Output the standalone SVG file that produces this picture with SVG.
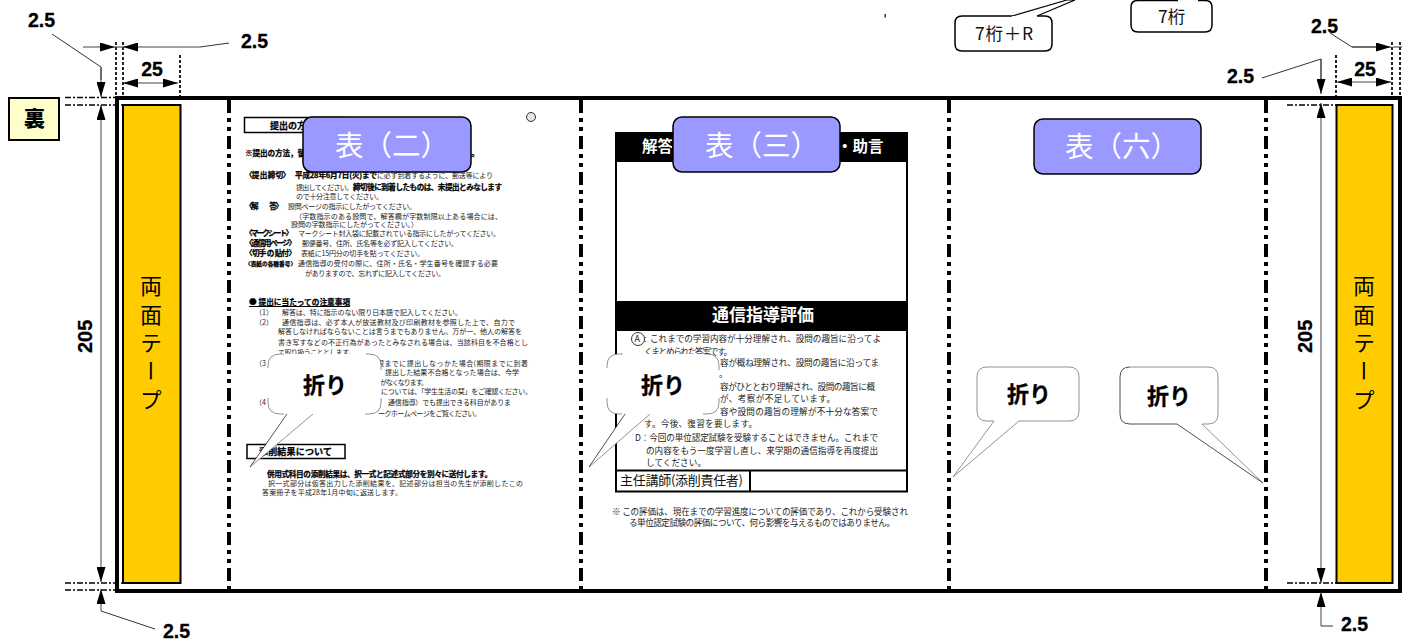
<svg xmlns="http://www.w3.org/2000/svg" width="1403" height="640" viewBox="0 0 1403 640">
<style>
text{font-family:"Noto Sans CJK JP","Noto Sans",sans-serif;fill:#000}
.dim{font-family:"Liberation Sans",Arial,sans-serif;font-weight:700;font-size:19.500px;stroke:#000;stroke-width:.3}
.s{font-size:7px;fill:#222}
.b{font-size:7.600px;font-weight:700;stroke:#000;stroke-width:.25}
.m{font-size:8.600px;fill:#222}
.blue{fill:#99f;stroke:#000;stroke-width:1.500}
.bt{fill:#fff;font-size:28.500px}
.fold{fill:none;stroke:#000;stroke-width:4;stroke-dasharray:13 5 4 5 4 5}
.tape{fill:#fc0;stroke:#000;stroke-width:2}
.tt{font-size:22px;writing-mode:vertical-rl;letter-spacing:6.300px}
.ld{fill:none;stroke:#333;stroke-width:1}
.dd{fill:none;stroke:#000;stroke-width:1.700;stroke-dasharray:6 2 2 2}
.dv{fill:none;stroke:#000;stroke-width:1.700;stroke-dasharray:3 2}
.aw{fill:none;stroke:#444;stroke-width:1;marker-end:url(#ah)}
.cw{fill:#fff;stroke:none}
.co{fill:none;stroke:#777;stroke-width:.8}
.ck{fill:none;stroke:#222;stroke-width:.8}
.ot{font-size:22px;font-weight:700;stroke:#000;stroke-width:.3}
.tag{fill:#fff;stroke:#000;stroke-width:1.500}
.tagt{font-size:17.500px;fill:#111}
.fr{fill:none;stroke:#000;stroke-width:1.500}
.wb{font-size:15.500px;font-weight:700;fill:#fff}
</style>
<defs>
<marker id="ah" markerUnits="userSpaceOnUse" markerWidth="15" markerHeight="9" viewBox="0 0 15 9" refX="15" refY="4.500" orient="auto"><path d="M0 0L15 4.500L0 9Z" fill="#000"/></marker>
</defs>
<rect width="1403" height="640" fill="#fff"/>

<g id="page-left">
<rect class="fr" x="244.500" y="117.500" width="100" height="15"/>
<text class="b" x="270" y="129" style="font-size:9px" textLength="36">提出の方</text>
<text class="b" x="245" y="156" textLength="60">※提出の方法，留</text>
<text class="b" x="462" y="156" style="font-size:9px" textLength="18">す。</text>
<text class="b" x="245" y="178" textLength="45">〈提 出 締 切〉</text>
<text class="b" x="295" y="178" textLength="82">平成28年6月7日(火)まで</text>
<text class="s" x="377" y="178" textLength="116">に必ず到着するように、郵送等により</text>
<text class="s" x="296" y="190" textLength="57">提出してください。</text>
<text class="b" x="353" y="190" textLength="149">締切後に到着したものは、未提出とみなします</text>
<text class="s" x="296" y="199" textLength="87">ので十分注意してください。</text>
<text class="b" x="245" y="209" textLength="38">〈解　　答〉</text>
<text class="s" x="288" y="209" textLength="128">設問ページの指示にしたがってください。</text>
<text class="s" x="295" y="219" textLength="207">（字数指示のある設問で、解答欄が字数制限以上ある場合には、</text>
<text class="s" x="291" y="227" textLength="127">設問の字数指示にしたがってください。）</text>
<text class="b" x="245" y="236" textLength="48">〈マークシート〉</text>
<text class="s" x="298" y="236" textLength="202">マークシート封入袋に記載されている指示にしたがってください。</text>
<text class="b" x="245" y="246" textLength="51">〈通信用ページ〉</text>
<text class="s" x="302" y="246" textLength="156">郵便番号、住所、氏名等を必ず記入してください。</text>
<text class="b" x="245" y="256" textLength="51">〈切手 の 貼付〉</text>
<text class="s" x="301" y="256" textLength="123">表紙に15円分の切手を貼ってください。</text>
<text class="b" x="245" y="266" style="font-size:5.600px" textLength="51">〈表紙の各種番号〉</text>
<text class="s" x="298" y="266" textLength="200">通信指導の受付の際に、住所・氏名・学生番号を確認する必要</text>
<text class="s" x="305" y="276" textLength="140">がありますので、忘れずに記入してください。</text>
<text class="b" x="249" y="305" textLength="101">●  提出に当たっての注意事項</text>
<rect x="249" y="306" width="101" height="1" fill="#000"/>
<text class="s" x="255" y="315">（1）</text>
<text class="s" x="282" y="315" textLength="180">解答は、特に指示のない限り日本語で記入してください。</text>
<text class="s" x="255" y="324.500">（2）</text>
<text class="s" x="282" y="324.500" textLength="233">通信指導は、必ず本人が放送教材及び印刷教材を参照した上で、自力で</text>
<text class="s" x="278" y="334" textLength="244">解答しなければならないことは言うまでもありません。万が一、他人の解答を</text>
<text class="s" x="278" y="345" textLength="250">書き写すなどの不正行為があったとみなされる場合は、当該科目を不合格とし</text>
<text class="s" x="278" y="354.500" textLength="77">て取り扱うこととします。</text>
<text class="s" x="255" y="365.500">（3</text>
<text class="s" x="377" y="365.500" textLength="151">限までに提出しなっかた場合(期限までに到着</text>
<text class="s" x="385" y="374.500" textLength="134">提出した結果不合格となった場合は、今学</text>
<text class="s" x="380" y="384.500" textLength="48">がなくなります。</text>
<text class="s" x="381" y="394" textLength="151">については、「学生生活の栞」をご確認ください。</text>
<text class="s" x="255" y="404.500">（4</text>
<text class="s" x="388" y="404.500" textLength="123">通信指導）でも提出できる科目がありま</text>
<text class="s" x="378" y="415.500" textLength="103">ークホームページをご覧ください。</text>
<rect class="fr" x="247" y="444.500" width="98" height="14"/>
<text class="b" x="259" y="455" style="font-size:9px" textLength="73">添削結果について</text>
<text class="b" x="267" y="477" textLength="225">併用式科目の添削結果は、択一式と記述式部分を別々に送付します。</text>
<text class="s" x="268" y="485.500" textLength="255">択一式部分は仮答出力した添削結果を、記述部分は担当の先生が添削したこの</text>
<text class="s" x="262" y="494.500" textLength="140">答案冊子を平成28年1月中旬に返送します。</text>
<circle cx="531" cy="117" r="4.500" fill="#e4e4e4" stroke="#333" stroke-width="1"/>
</g>

<g id="page-middle">
<rect x="616" y="133" width="291" height="358.500" fill="#fff" stroke="#000" stroke-width="2"/>
<rect x="615" y="132" width="293" height="30" fill="#000"/>
<text class="wb" x="642" y="152">解答</text>
<text class="wb" x="837" y="152">・助言</text>
<rect x="615" y="301" width="293" height="30" fill="#000"/>
<text x="712" y="321" style="font-size:17px;font-weight:700;fill:#fff">通信指導評価</text>
<circle cx="638" cy="339" r="6.500" fill="none" stroke="#222" stroke-width=".9"/>
<text class="m" x="634.500" y="342" style="font-size:9px">A</text>
<text class="m" x="644" y="342">:</text>
<text class="m" x="650" y="342" textLength="231">これまでの学習内容が十分理解され、設問の趣旨に沿ってよ</text>
<text class="m" x="644" y="354.500" textLength="88">くまとめられた答案です。</text>
<text class="m" x="720" y="366" textLength="159">容が概ね理解され、設問の趣旨に沿ってま</text>
<text class="m" x="719" y="377">。</text>
<text class="m" x="720" y="390" textLength="155">容がひととおり理解され、設問の趣旨に概</text>
<text class="m" x="720" y="402" textLength="115">が、考察が不足しています。</text>
<text class="m" x="720" y="415" textLength="158">容や設問の趣旨の理解が不十分な答案で</text>
<text class="m" x="644" y="427" textLength="113">す。今後、復習を要します。</text>
<text class="m" x="635" y="441" textLength="243">D：今回の単位認定試験を受験することはできません。これまで</text>
<text class="m" x="646" y="453.500" textLength="232">の内容をもう一度学習し直し、来学期の通信指導を再度提出</text>
<text class="m" x="646" y="466" textLength="60">してください。</text>
<path d="M615 470.500H908M750 470.500V492" fill="none" stroke="#000" stroke-width="2"/>
<text x="620" y="485" style="font-size:13px;fill:#111" textLength="123">主任講師(添削責任者)</text>
<text class="m" x="612" y="515" textLength="296">※ この評価は、現在までの学習進度についての評価であり、これから受験され</text>
<text class="m" x="629" y="526" textLength="266">る単位認定試験の評価について、何ら影響を与えるものではありません。</text>
</g>

<g id="frame">
<rect x="117" y="98" width="1283" height="493" fill="none" stroke="#000" stroke-width="4"/>
<path class="fold" d="M229 100V590"/>
<path class="fold" d="M581 100V590"/>
<path class="fold" d="M949 100V590"/>
<path class="fold" d="M1266 100V590"/>
</g>

<g id="tape-left">
<rect class="tape" x="123" y="105" width="57.500" height="478"/>
<text class="tt" x="151" y="275">両面テープ</text>
</g>
<g id="tape-right">
<rect class="tape" x="1336.500" y="105" width="56" height="478"/>
<text class="tt" x="1364" y="275">両面テープ</text>
</g>

<g id="ura">
<rect x="9" y="98" width="50" height="42" fill="#ffc" stroke="#000" stroke-width="2"/>
<text x="24" y="126" style="font-size:21px;font-weight:900">裏</text>
</g>

<g id="connectors">
<path class="dd" d="M65 97.500H116M65 105H122M65 583H122M65 590H116M1287 105H1336M1287 583H1336"/>
<path class="dv" d="M116 42V96M123 42V96M180 55V96M1336 55V96M1392 42V96M1400 42V96"/>
<path class="ld" d="M52 34L101 67V80"/>
<path class="aw" d="M101 67V97"/>
<path class="aw" d="M101 340V105"/>
<path class="aw" d="M101 340V582"/>
<path class="aw" d="M101 611V589"/>
<path class="ld" d="M101 611L155 629"/>
<path class="aw" d="M83 47H115"/>
<path class="aw" d="M200 47H123"/>
<path class="ld" d="M200 47L229 43"/>
<path class="ld" d="M115 47H123"/>
<path class="aw" d="M150 83H123"/>
<path class="aw" d="M150 83H178"/>
<path class="ld" d="M1330 33L1352 47H1376"/>
<path class="aw" d="M1352 47H1391"/>
<path class="ld" d="M1393 47H1402"/>
<path class="ld" d="M1262 78L1321 59V80"/>
<path class="aw" d="M1321 59V94"/>
<path class="aw" d="M1321 340V103"/>
<path class="aw" d="M1321 340V583"/>
<path class="aw" d="M1321 626V592"/>
<path class="ld" d="M1321 626H1333"/>
<path class="aw" d="M1364 82H1337"/>
<path class="aw" d="M1364 82H1391"/>
</g>

<g id="dim-labels">
<text class="dim" x="28" y="27">2.5</text>
<text class="dim" x="241" y="48">2.5</text>
<text class="dim" x="152" y="76" text-anchor="middle">25</text>
<text class="dim" x="1311" y="33">2.5</text>
<text class="dim" x="1227" y="83">2.5</text>
<text class="dim" x="1365" y="76" text-anchor="middle">25</text>
<text class="dim" x="163" y="638">2.5</text>
<text class="dim" x="1341" y="631">2.5</text>
<text class="dim" transform="translate(92 353) rotate(-90)" style="font-size:20px">205</text>
<text class="dim" transform="translate(1312 353) rotate(-90)" style="font-size:20px">205</text>
</g>

<g id="label-hyo2">
<rect class="blue" x="303" y="117" width="168" height="55" rx="9"/>
<text class="bt" x="335" y="156">表（二）</text>
</g>
<g id="label-hyo3">
<rect class="blue" x="673" y="117" width="167" height="55" rx="9"/>
<text class="bt" x="705" y="156">表（三）</text>
</g>
<g id="label-hyo6">
<rect class="blue" x="1034" y="119" width="167" height="55" rx="9"/>
<text class="bt" x="1065" y="157">表（六）</text>
</g>

<g id="tag-7r">
<path d="M1012 16L1067 0H1075L1037 16" fill="#fff" stroke="#000" stroke-width="1.200"/>
<path d="M1012 16H962Q955 16 955 23V44Q955 51 962 51H1045Q1052 51 1052 44V23Q1052 16 1045 16H1037" class="tag"/>
<text class="tagt" x="975" y="40" textLength="58">7桁＋R</text>
</g>
<g id="tag-7">
<path d="M1178 .5H1138Q1131 .5 1131 7V25Q1131 32 1138 32H1205Q1212 32 1212 25V7Q1212 .5 1205 .5H1198" class="tag"/>
<text class="tagt" x="1158" y="23">7桁</text>
</g>
<rect id="speck" x="884.500" y="14" width="1.500" height="3.500" fill="#333"/>

<g id="fold-1">
<path class="cw" d="M280 354H369Q381 354 381 366V402Q381 414 369 414H313L250 467L287 414H280Q268 414 268 402V366Q268 354 280 354Z"/>
<path class="co" d="M268 368V366Q268 354 280 354H284M366 354H369Q381 354 381 366V370M381 398V402Q381 414 369 414H365M313 414L250 467M284 414H280Q268 414 268 402V398"/>
<path class="ck" d="M287 414L250 467"/>
<text class="ot" x="303" y="393">折り</text>
</g>
<g id="fold-2">
<path class="cw" d="M619 354H707Q719 354 719 366V402Q719 414 707 414H650L589 467L625 414H619Q607 414 607 402V366Q607 354 619 354Z"/>
<path class="co" d="M607 368V366Q607 354 619 354H623M704 354H707Q719 354 719 366V370M719 398V402Q719 414 707 414H703M650 414L589 467M622 414H619Q607 414 607 402V398"/>
<path class="ck" d="M625 414L589 467"/>
<text class="ot" x="641" y="393">折り</text>
</g>
<g id="fold-3">
<path class="cw" d="M987 367H1069Q1079 367 1079 377V411Q1079 421 1069 421H1019L953 477L994 421H987Q977 421 977 411V377Q977 367 987 367Z"/>
<path class="co" d="M994 421H987Q977 421 977 411V377Q977 367 987 367H1069Q1079 367 1079 377V411Q1079 421 1069 421H1019L953 477L994 421"/>
<text class="ot" x="1007" y="402">折り</text>
</g>
<g id="fold-4">
<path class="cw" d="M1130 367H1208Q1218 367 1218 377V414Q1218 424 1208 424H1202L1263 483L1177 424H1130Q1120 424 1120 414V377Q1120 367 1130 367Z"/>
<path class="co" d="M1130 367H1208Q1218 367 1218 377V414Q1218 424 1208 424H1202L1263 483"/>
<path class="ck" d="M1263 483L1177 424H1130Q1120 424 1120 414V377Q1120 367 1130 367"/>
<text class="ot" x="1147" y="404">折り</text>
</g>
</svg>
